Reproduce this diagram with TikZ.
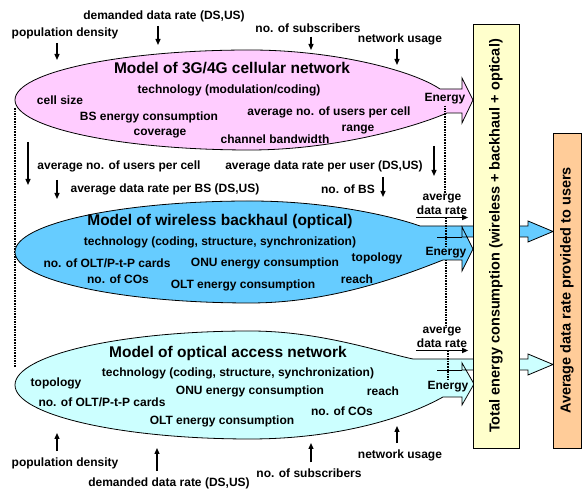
\documentclass[tikz,border=0pt]{standalone}
\usepackage{fontspec}
\setmainfont{Liberation Sans}
\usetikzlibrary{arrows.meta}
\definecolor{cellpink}{RGB}{255,204,255}
\definecolor{backblue}{RGB}{102,204,255}
\definecolor{accesscyan}{RGB}{204,255,255}
\definecolor{totyellow}{RGB}{255,255,204}
\definecolor{rateorange}{RGB}{255,204,153}
\tikzset{lbl/.style={inner sep=1pt, font=\fontsize{12}{14}\selectfont\bfseries}}
\tikzset{ttl/.style={inner sep=1pt, font=\fontsize{15.5}{18}\selectfont\bfseries}}
\tikzset{inarr/.style={-{Triangle[length=6pt,width=5pt]}, line width=1.3pt}}
\tikzset{dots/.style={dash pattern=on 1.6pt off 1pt, line width=1.1pt}}
\tikzset{model/.style={draw, line width=0.8pt}}
\tikzset{sumbox/.style={draw, line width=0.8pt, inner sep=0pt, rotate=90, font=\fontsize{14.5}{17}\selectfont\bfseries}}

\begin{document}
\begin{tikzpicture}[x=1pt,y=1pt]
\useasboundingbox (0,0) rectangle (582,489);

\coordinate (lt) at (15,381);
\coordinate (lb) at (15,122);
\draw[dots] (lt) -- (lb);

% 3G/4G cellular
\draw[model,fill=cellpink] (440,400) -- (462,400) -- (462,411) -- (473,389) -- (462,366) -- (462,376) -- (447,376)
  .. controls (410,360) and (330,339) .. (250,339)
  arc[start angle=270,end angle=90,x radius=235pt,y radius=50pt]
  .. controls (330,439) and (410,420) .. (440,400) -- cycle;

% wireless backhaul
\draw[model,fill=backblue] (420,263) -- (528,263) -- (528,268) -- (553,257.5) -- (528,247) -- (528,252)
  -- (462,252) -- (462,262) -- (473,240) -- (462,218) -- (462,229) -- (443,229)
  .. controls (400,212) and (330,186) .. (250,186)
  arc[start angle=270,end angle=90,x radius=235pt,y radius=51pt]
  .. controls (330,288) and (395,272) .. (420,263) -- cycle;
\draw[model] (437,252) -- (462,252);

% optical access
\draw[model,fill=accesscyan] (413,130) -- (528,130) -- (528,135) -- (553,124.5) -- (528,114) -- (528,119)
  -- (462,119) -- (462,126) -- (474,105) -- (462,84) -- (462,92) -- (443,92)
  .. controls (400,68) and (330,50) .. (250,50)
  arc[start angle=270,end angle=90,x radius=235pt,y radius=54pt]
  .. controls (320,158) and (380,137) .. (413,130) -- cycle;
\draw[model] (437,119) -- (462,119);

\node[lbl] (pdT) at (65,456) {population density};
\node[lbl] (drT) at (164,473) {demanded data rate (DS,US)};
\node[lbl] (nsT) at (308,461) {no. of subscribers};
\node[lbl] (nuT) at (400,450) {network usage};

\node[ttl] (m1) at (232,421) {Model of 3G/4G cellular network};
\node[lbl] (t1) at (229,399) {technology (modulation/coding)};
\node[lbl] (cs) at (60,389) {cell size};
\node[lbl] (bs) at (149,372) {BS energy consumption};
\node[lbl] (au) at (329,377) {average no. of users per cell};
\node[lbl] (cv) at (160,355) {coverage};
\node[lbl] (cb) at (275,350) {channel bandwidth};
\node[lbl] (rg) at (358,359) {range};
\node[lbl] (e1) at (445,390) {Energy};

\node[lbl] (upc) at (119,323) {average no. of users per cell};
\node[lbl] (dru) at (324,323) {average data rate per user (DS,US)};
\node[lbl] (drb) at (165,300) {average data rate per BS (DS,US)};
\node[lbl] (nbs) at (348,300) {no. of BS};

\node[ttl] (m2) at (220,267) {Model of wireless backhaul (optical)};
\node[lbl] (t2) at (220,247) {technology (coding, structure, synchronization)};
\node[lbl] (oc2) at (107,226) {no. of OLT/P-t-P cards};
\node[lbl] (onu2) at (265,226) {ONU energy consumption};
\node[lbl] (tp2) at (377,231) {topology};
\node[lbl] (co2) at (118,210) {no. of COs};
\node[lbl] (olt2) at (243,204) {OLT energy consumption};
\node[lbl] (rc2) at (357,210) {reach};
\node[lbl,align=center] (r2) at (442,285) {averge\\data rate};
\node[lbl] (e2) at (446,236) {Energy};

\node[ttl] (m3) at (228,136) {Model of optical access network};
\node[lbl] (t3) at (238,116) {technology (coding, structure, synchronization)};
\node[lbl] (tp3) at (56,106) {topology};
\node[lbl] (onu3) at (250,98) {ONU energy consumption};
\node[lbl] (rc3) at (383,98) {reach};
\node[lbl] (oc3) at (102,87) {no. of OLT/P-t-P cards};
\node[lbl] (co3) at (342,78) {no. of COs};
\node[lbl] (olt3) at (222,68) {OLT energy consumption};
\node[lbl,align=center] (r3) at (442,152) {averge\\data rate};
\node[lbl] (e3) at (448,102) {Energy};

\node[lbl] (pdB) at (65,26) {population density};
\node[lbl] (drB) at (169,6) {demanded data rate (DS,US)};
\node[lbl] (nsB) at (309,16) {no. of subscribers};
\node[lbl] (nuB) at (400,34) {network usage};

% inputs from the top
\coordinate (pdTe) at (57,429);
\coordinate (drTe) at (158,444);
\coordinate (nsTe) at (311,439);
\coordinate (nuTe) at (397,424);
\draw[inarr,shorten <=3pt] (pdT.south -| pdTe) -- (pdTe);
\draw[inarr,shorten <=3pt] (drT.south -| drTe) -- (drTe);
\draw[inarr,shorten <=3pt] (nsT.south -| nsTe) -- (nsTe);
\draw[inarr,shorten <=3pt] (nuT.south -| nuTe) -- (nuTe);

% inputs from the bottom
\coordinate (pdBe) at (57,56);
\coordinate (drBe) at (157,41);
\coordinate (nsBe) at (311,46);
\coordinate (nuBe) at (397,63);
\draw[inarr,shorten <=5pt] (pdB.north -| pdBe) -- (pdBe);
\draw[inarr,shorten <=5pt] (drB.north -| drBe) -- (drBe);
\draw[inarr,shorten <=5pt] (nsB.north -| nsBe) -- (nsBe);
\draw[inarr,shorten <=5pt] (nuB.north -| nuBe) -- (nuBe);

% between cellular and backhaul
\coordinate (upcs) at (28,347);
\coordinate (upce) at (28,304);
\coordinate (drus) at (434,343);
\coordinate (drue) at (434,313);
\coordinate (drbs) at (57,309);
\coordinate (drbe) at (57,290);
\coordinate (nbss) at (383,312);
\coordinate (nbse) at (383,292);
\draw[inarr] (upcs) -- (upce);
\draw[inarr] (drus) -- (drue);
\draw[inarr] (drbs) -- (drbe);
\draw[inarr] (nbss) -- (nbse);

% data rate outputs
\draw[inarr] ([yshift=-2pt]r2.south west) -- ([yshift=-2pt]r2.south east);
\draw[inarr] ([yshift=-2pt]r3.south west) -- ([yshift=-2pt]r3.south east);

% energy path
\draw[dots] (e1.south) -- (r2.north -| e1.south);
\draw[dots] ([yshift=-2pt]r2.south -| e2.north) -- (e2.north);
\draw[dots] (e2.south) -- (r3.north -| e2.south);
\draw[dots] ([yshift=-2pt]r3.south -| e3.north) -- (e3.north);

\node[sumbox,fill=totyellow,minimum width=424pt,minimum height=46pt] (tot) at (496,253) {Total energy consumption (wireless + backhaul + optical)};
\node[sumbox,fill=rateorange,minimum width=315pt,minimum height=28pt] (avg) at (567,198.5) {Average data rate provided to users};
\end{tikzpicture}
\end{document}
